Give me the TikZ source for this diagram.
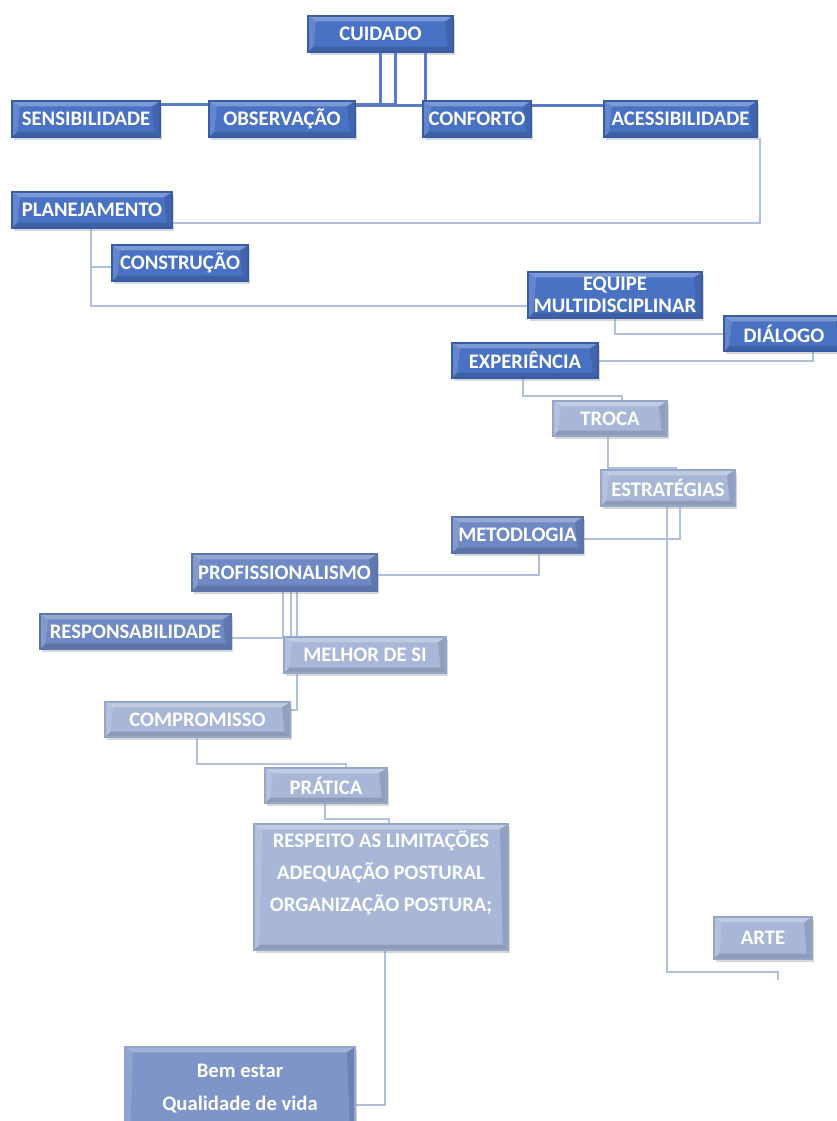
\documentclass[tikz,border=0pt]{standalone}
\usepackage{fontspec}
\setmainfont{Carlito}
\usetikzlibrary{calc,shadows}
\definecolor{dkfill}{HTML}{4A72C4}
\definecolor{dkdraw}{HTML}{3A5BA5}
\definecolor{mdfill}{HTML}{6E89C3}
\definecolor{mddraw}{HTML}{5A74AE}
\definecolor{ltfill}{HTML}{A8B7D8}
\definecolor{ltdraw}{HTML}{95A6CB}
\definecolor{bmfill}{HTML}{7D95C9}
\definecolor{dkline}{HTML}{5A7BC6}
\definecolor{ltline}{HTML}{B2C0E0}
\pgfdeclarelayer{paper}
\pgfdeclarelayer{bg}
\pgfsetlayers{paper,bg,main}
\newcommand\mkbox[7]{\node[#6, minimum width={(#4-#2)*0.75pt}, minimum height={(#5-#3)*0.75pt}] (#1) at ({(#2+#4)/2},{(#3+#5)/2}) {#7};}
\tikzset{
  bevel/.style={path picture={
    \fill[white,opacity=0.28] (path picture bounding box.north west) -- (path picture bounding box.north east)
      -- ([xshift=-6pt,yshift=-4pt]path picture bounding box.north east) -- ([xshift=6pt,yshift=-4pt]path picture bounding box.north west) -- cycle;
    \fill[white,opacity=0.15] (path picture bounding box.north west) -- (path picture bounding box.south west)
      -- ([xshift=4pt,yshift=4pt]path picture bounding box.south west) -- ([xshift=6pt,yshift=-4pt]path picture bounding box.north west) -- cycle;
    \fill[black,opacity=0.15] (path picture bounding box.south west) -- (path picture bounding box.south east)
      -- ([xshift=-4pt,yshift=4pt]path picture bounding box.south east) -- ([xshift=4pt,yshift=4pt]path picture bounding box.south west) -- cycle;
    \fill[black,opacity=0.12] (path picture bounding box.north east) -- (path picture bounding box.south east)
      -- ([xshift=-4pt,yshift=4pt]path picture bounding box.south east) -- ([xshift=-6pt,yshift=-4pt]path picture bounding box.north east) -- cycle;
  }},
  basebox/.style={rectangle, inner sep=0pt, text=white, align=center,
    font=\bfseries\fontsize{15.5}{18}\selectfont, line width=0.8pt,
    drop shadow={shadow xshift=1.5pt, shadow yshift=-2.2pt, opacity=0.3}, bevel},
  dbox/.style={basebox, fill=dkfill, draw=dkdraw},
  mbox/.style={basebox, fill=mdfill, draw=mddraw},
  lbox/.style={basebox, fill=ltfill, draw=ltdraw},
  bbox/.style={basebox, fill=bmfill, draw=ltdraw},
  dline/.style={draw=dkline, line width=1.6pt},
  lline/.style={draw=ltline, line width=1.5pt},
}
\begin{document}
\begin{tikzpicture}[x=0.75pt, y=-0.75pt]
\begin{pgfonlayer}{paper}
\fill[white] (0,0) rectangle (836,1121);
\end{pgfonlayer}
\useasboundingbox (0,0) rectangle (836,1121);
% nodes
\mkbox{cuid}{308}{16}{453}{52}{dbox}{CUIDADO}
\mkbox{sens}{12}{101}{160}{137}{dbox}{SENSIBILIDADE}
\mkbox{obs}{209}{101}{355}{137}{dbox}{OBSERVAÇÃO}
\mkbox{conf}{423}{101}{531}{137}{dbox}{CONFORTO}
\mkbox{aces}{604}{101}{757}{137}{dbox}{ACESSIBILIDADE}
\mkbox{plan}{12}{192}{172}{228}{dbox}{PLANEJAMENTO}
\mkbox{cons}{112}{245}{248}{281}{dbox}{CONSTRUÇÃO}
\mkbox{equi}{528}{272}{702}{318}{dbox, font=\bfseries\fontsize{15.5}{16.5}\selectfont}{EQUIPE\\MULTIDISCIPLINAR}
\mkbox{dial}{724}{316}{844}{351}{dbox}{DIÁLOGO}
\mkbox{expe}{452}{343}{598}{378}{dbox}{EXPERIÊNCIA}
\mkbox{troc}{553}{401}{667}{436}{lbox}{TROCA}
\mkbox{estr}{601}{470}{735}{506}{lbox}{ESTRATÉGIAS}
\mkbox{meto}{452}{517}{583}{553}{mbox}{METODLOGIA}
\mkbox{prof}{192}{554}{377}{591}{mbox}{PROFISSIONALISMO}
\mkbox{resp}{40}{614}{231}{649}{mbox}{RESPONSABILIDADE}
\mkbox{melh}{284}{637}{446}{673}{lbox}{MELHOR DE SI}
\mkbox{comp}{105}{702}{290}{737}{lbox}{COMPROMISSO}
\mkbox{prat}{265}{768}{387}{803}{lbox}{PRÁTICA}
\mkbox{resl}{254}{824}{508}{950}{lbox, font=\bfseries\fontsize{15.5}{24}\selectfont}{RESPEITO AS LIMITAÇÕES\\ADEQUAÇÃO POSTURAL\\ORGANIZAÇÃO POSTURA;\\\mbox{}}
\mkbox{arte}{714}{917}{812}{959}{lbox}{ARTE}
\mkbox{bems}{125}{1047}{355}{1130}{bbox, font=\bfseries\fontsize{15.5}{24.75}\selectfont}{Bem estar\\Qualidade de vida}
\coordinate (aend) at ($(arte.south west)+(65,20)$);
% connectors
\begin{pgfonlayer}{bg}
\draw[dline] ($(cuid.south west)+(88,0)$) |- ($(sens.north east)+(0,4)$);
\draw[dline] ($(cuid.south west)+(73,0)$) |- ($(obs.north east)+(0,5)$);
\draw[dline] ($(cuid.south west)+(118,0)$) -- ($(conf.north west)+(3,0)$);
\draw[dline] ($(cuid.south west)+(73,0)$) |- ($(aces.north west)+(0,5)$);
\draw[lline] ($(aces.south east)+(2,0)$) |- ($(plan.south east)+(0,-6)$);
\draw[lline] ($(plan.south west)+(80,0)$) |- ($(cons.west)+(0,4)$);
\draw[lline] ($(plan.south west)+(80,0)$) |- ($(equi.south west)+(0,-13)$);
\draw[lline] ($(equi.south west)+(88,0)$) |- (dial.west);
\draw[lline] ($(dial.south west)+(90,0)$) |- (expe.east);
\draw[lline] ($(expe.south west)+(72,0)$) -- ++(0,17) -| ($(troc.north west)+(70,0)$);
\draw[lline] ($(troc.south west)+(56,0)$) -- ++(0,31) -| ($(estr.north west)+(76,0)$);
\draw[lline] ($(estr.south west)+(80,0)$) |- ($(meto.east)+(0,4)$);
\draw[lline] ($(estr.south west)+(67,0)$) |- ($(aend)+(0,-8)$) -- (aend);
\draw[lline] ($(meto.south west)+(88,0)$) |- ($(prof.east)+(0,2)$);
\draw[lline] ($(prof.south west)+(92,0)$) |- ($(melh.north west)+(94,1)$) -- ++(0,3);
\draw[lline] ($(prof.south west)+(100,0)$) |- ($(resp.east)+(0,6)$);
\draw[lline] ($(prof.south west)+(106,0)$) |- ($(comp.north east)+(0,9)$);
\draw[lline] ($(comp.south west)+(93,0)$) -- ++(0,26) -| ($(prat.north west)+(82,0)$);
\draw[lline] ($(prat.south west)+(61,0)$) -- ++(0,15) -| ($(resl.north west)+(136,0)$);
\draw[lline] ($(resl.south west)+(132,0)$) |- ($(bems.north east)+(0,59)$);
\end{pgfonlayer}
\end{tikzpicture}
\end{document}
